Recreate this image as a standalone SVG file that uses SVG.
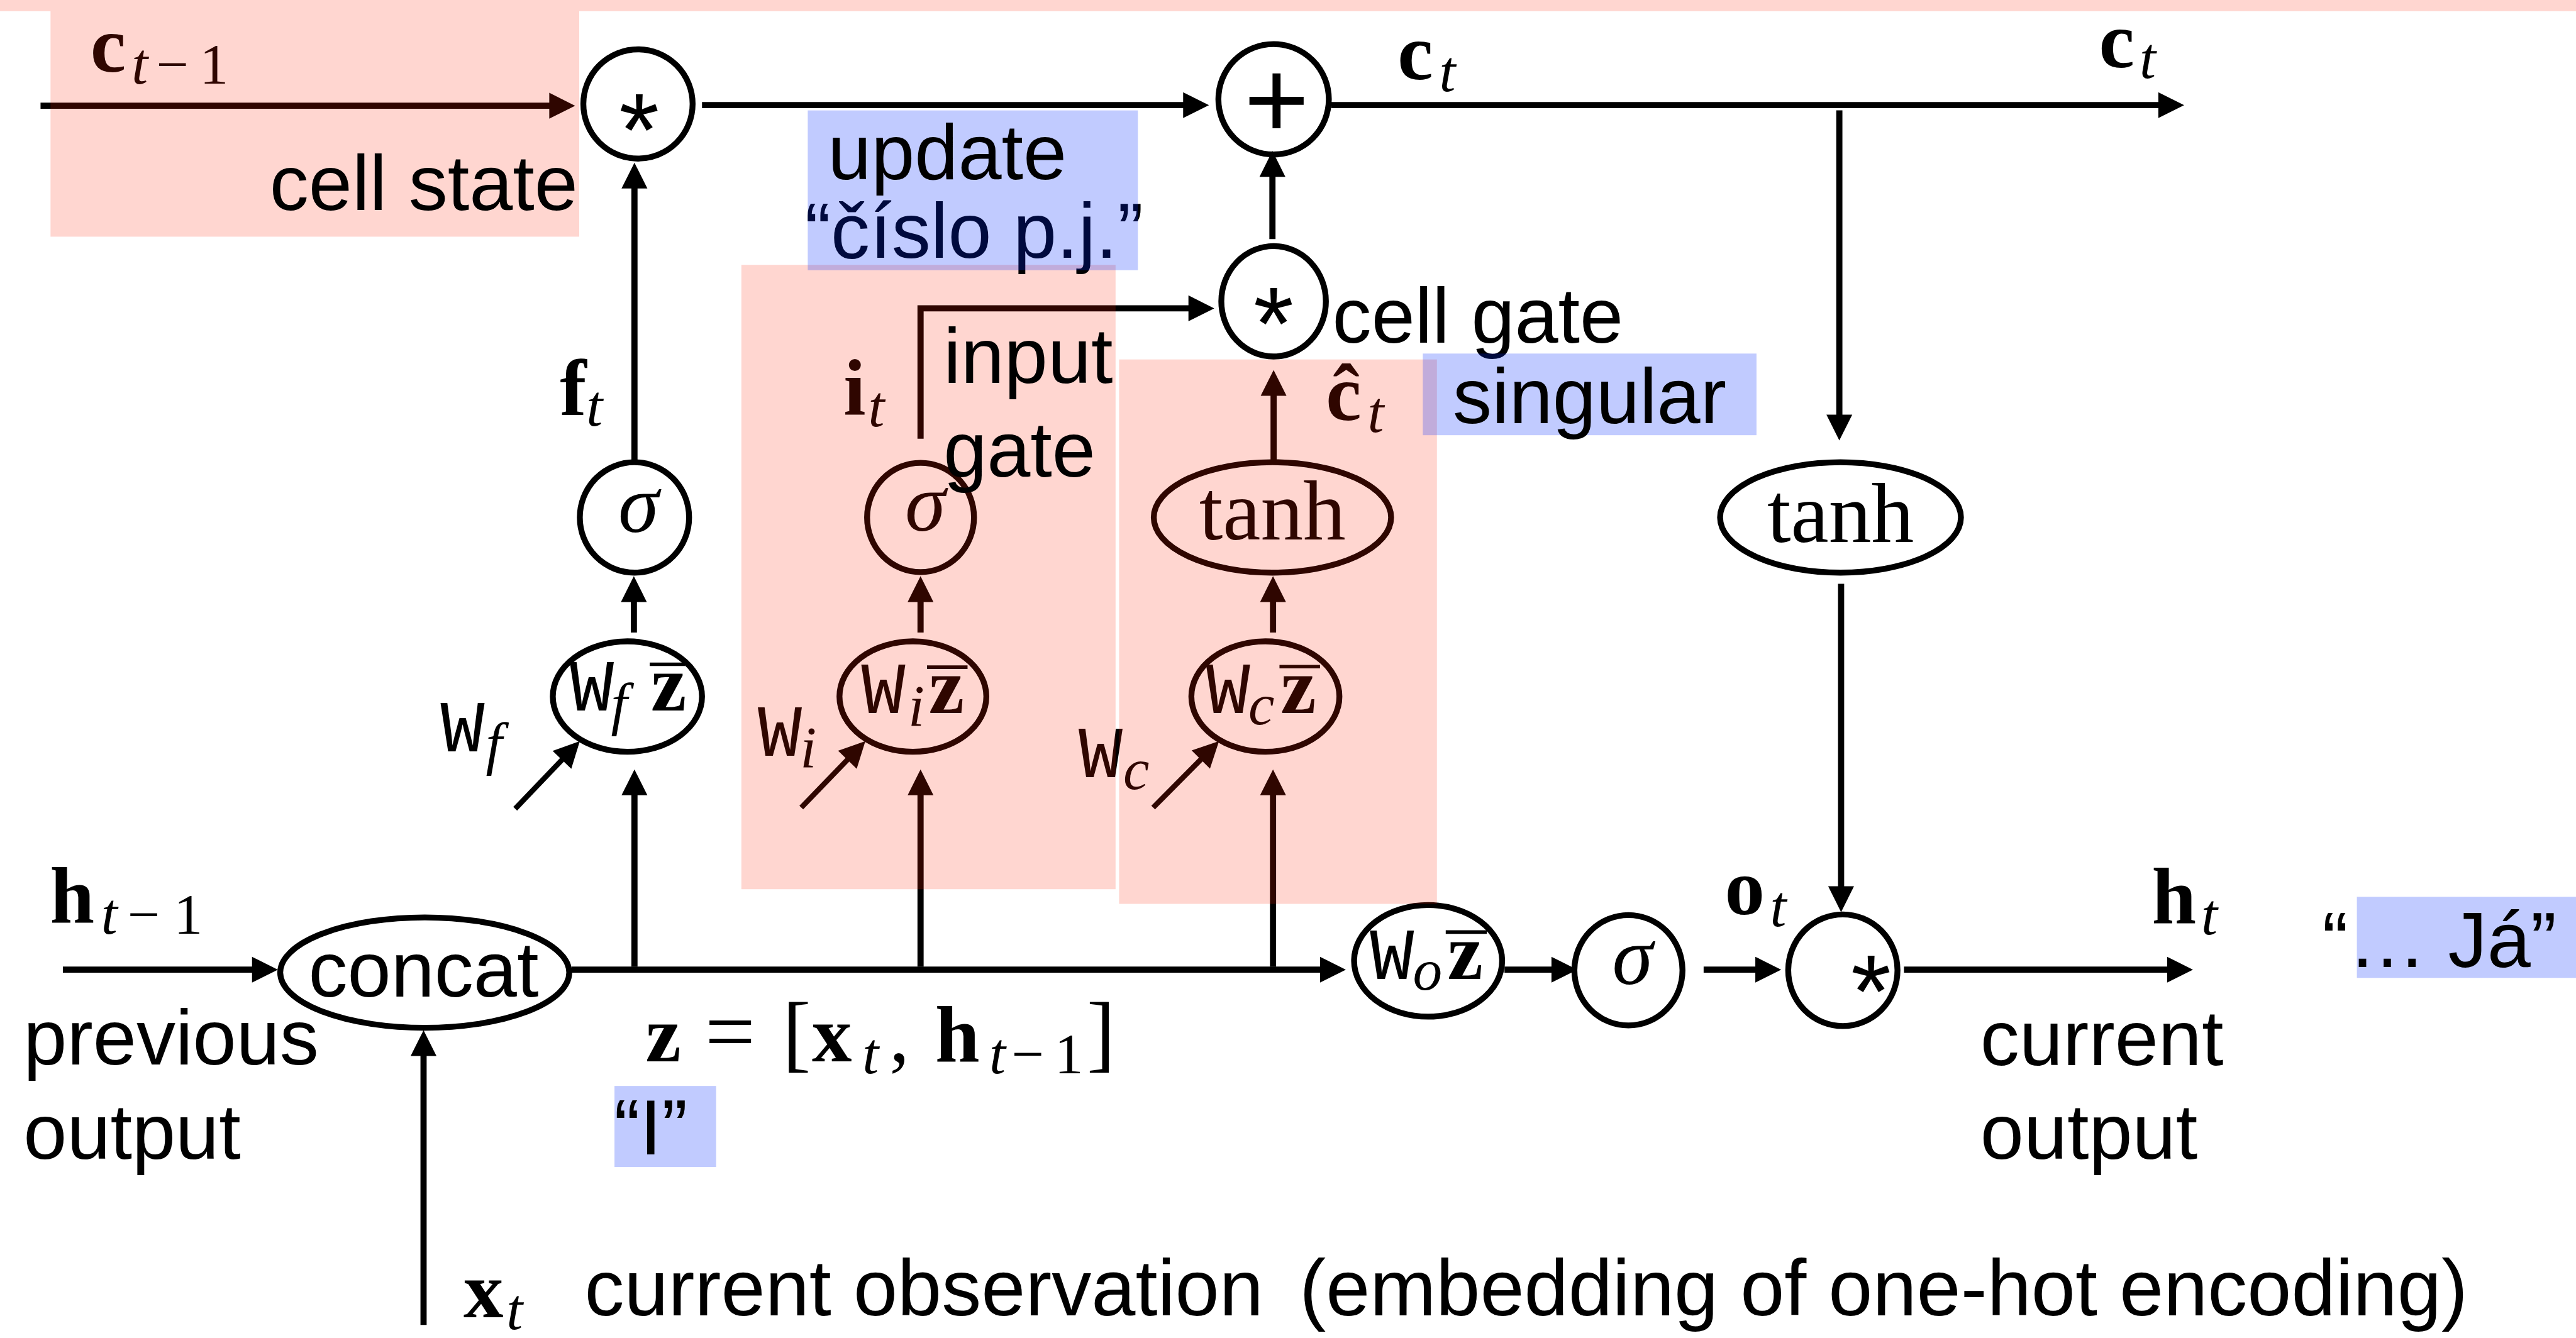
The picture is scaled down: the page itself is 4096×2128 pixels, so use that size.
<svg xmlns="http://www.w3.org/2000/svg" width="4096" height="2128" viewBox="0 0 4096 2128">
<defs>
<marker id="ah" markerUnits="userSpaceOnUse" markerWidth="44" markerHeight="44" refX="32" refY="22" orient="auto" overflow="visible">
<path d="M0,0 L44,22 L0,44 Z" fill="#000"/>
</marker>
<style>
.ln{fill:none;stroke:#000;stroke-width:10.5;marker-end:url(#ah)}
.dg{fill:none;stroke:#000;stroke-width:9;marker-end:url(#ah)}
.nd{fill:none;stroke:#000;stroke-width:10}
.ov{stroke:#000;stroke-width:6}
.sans{font-family:"Liberation Sans",Arial,sans-serif;font-size:133px;fill:#000}
.mb{font-family:"Liberation Serif","Times New Roman",serif;font-weight:bold;font-size:136px;fill:#000}
.mr{font-family:"Liberation Serif","Times New Roman",serif;font-size:98px;fill:#000}
.mi{font-family:"Liberation Serif","Times New Roman",serif;font-style:italic;font-size:100px;fill:#000}
.tt{font-family:"Liberation Mono","Courier New",monospace;font-size:125px;fill:#000}
.fn{font-family:"Liberation Serif","Times New Roman",serif;font-size:145px;fill:#000}
.sg{font-family:"Liberation Serif","Times New Roman",serif;font-style:italic;font-size:140px;fill:#000}
.op{font-family:"Liberation Sans",Arial,sans-serif;font-size:176px;fill:#000}
.pk{fill:rgb(255,30,0);fill-opacity:0.185}
.bl{fill:rgb(0,40,255);fill-opacity:0.245}
</style>
</defs>
<rect x="0" y="0" width="4096" height="2128" fill="#fff"/>
<g transform="scale(0.934094)">

<g id="connectors">
<path class="ln" d="M69,180 H967"/>
<path class="ln" d="M1195,179 H2046"/>
<path class="ln" d="M2266,179 H3706"/>
<path class="ln" d="M3131,188 V738"/>
<path class="ln" d="M3134,994 V1541"/>
<path class="ln" d="M2166,407 V269"/>
<path class="ln" d="M2168,783 V642"/>
<path class="ln" d="M1567,747 V525 H2055"/>
<path class="ln" d="M1080,783 V289"/>
<path class="ln" d="M1079,1077 V993"/>
<path class="ln" d="M1567,1077 V993"/>
<path class="ln" d="M2167,1077 V993"/>
<path class="ln" d="M1080,1646 V1322"/>
<path class="ln" d="M1567,1646 V1322"/>
<path class="ln" d="M2167,1646 V1322"/>
<path class="dg" d="M877,1377 L978.7,1270.7"/>
<path class="dg" d="M1364,1375 L1464.7,1270.6"/>
<path class="dg" d="M1963,1375 L2066.6,1270.5"/>
<path class="ln" d="M107,1651 H461"/>
<path class="ln" d="M721,2256 V1766"/>
<path class="ln" d="M973,1651 H2279"/>
<path class="ln" d="M2561,1651 H2673"/>
<path class="ln" d="M2900,1651 H3020"/>
<path class="ln" d="M3241,1651 H3721"/>
</g>

<g id="node-mul-forget">
<ellipse class="nd" cx="1086" cy="177" rx="93" ry="93"/>
<text class="op" x="1088" y="283" text-anchor="middle">*</text>
</g>
<g id="node-plus">
<ellipse class="nd" cx="2168" cy="169" rx="94" ry="94"/>
<text class="op" x="2173" y="236" text-anchor="middle" style="font-size:190px">+</text>
</g>
<g id="node-mul-cellgate">
<ellipse class="nd" cx="2168" cy="513" rx="89" ry="94"/>
<text class="op" x="2168" y="612" text-anchor="middle">*</text>
</g>
<g id="node-sigma-forget">
<ellipse class="nd" cx="1080" cy="881" rx="93" ry="94"/>
<text class="sg" x="1087" y="906" text-anchor="middle">σ</text>
</g>
<g id="node-sigma-input">
<ellipse class="nd" cx="1567" cy="881" rx="91" ry="93"/>
<text class="sg" x="1575" y="904" text-anchor="middle">σ</text>
</g>
<g id="node-tanh-cell">
<ellipse class="nd" cx="2166" cy="881" rx="202" ry="94"/>
<text class="fn" x="2166" y="919" text-anchor="middle">tanh</text>
</g>
<g id="node-tanh-out">
<ellipse class="nd" cx="3133" cy="881" rx="205" ry="94"/>
<text class="fn" x="3133" y="923" text-anchor="middle">tanh</text>
</g>
<g id="node-Wfz">
<ellipse class="nd" cx="1068" cy="1186" rx="127" ry="94"/>
<text class="tt" x="970" y="1210">W</text>
<text class="mi" x="1040" y="1232">f</text>
<text class="mb" x="1108" y="1210">z</text>
<line class="ov" x1="1106" y1="1131" x2="1166" y2="1131"/>
</g>
<g id="node-Wiz">
<ellipse class="nd" cx="1554" cy="1186" rx="125" ry="94"/>
<text class="tt" x="1466" y="1214">W</text>
<text class="mi" x="1546" y="1235">i</text>
<text class="mb" x="1581" y="1214">z</text>
<line class="ov" x1="1578" y1="1136" x2="1647" y2="1136"/>
</g>
<g id="node-Wcz">
<ellipse class="nd" cx="2154" cy="1186" rx="126" ry="94"/>
<text class="tt" x="2053" y="1214">W</text>
<text class="mi" x="2125" y="1233">c</text>
<text class="mb" x="2180" y="1214">z</text>
<line class="ov" x1="2178" y1="1135" x2="2247" y2="1135"/>
</g>
<g id="node-concat">
<ellipse class="nd" cx="723" cy="1656" rx="246" ry="94"/>
<text class="sans" x="721" y="1697" text-anchor="middle">concat</text>
</g>
<g id="node-Woz">
<ellipse class="nd" cx="2431" cy="1636" rx="126" ry="95"/>
<text class="tt" x="2332" y="1667">W</text>
<text class="mi" x="2405" y="1685">o</text>
<text class="mb" x="2464" y="1667">z</text>
<line class="ov" x1="2461" y1="1587" x2="2531" y2="1587"/>
</g>
<g id="node-sigma-out">
<ellipse class="nd" cx="2772" cy="1652" rx="92" ry="94"/>
<text class="sg" x="2779" y="1675" text-anchor="middle">σ</text>
</g>
<g id="node-mul-out">
<ellipse class="nd" cx="3137" cy="1652" rx="93" ry="95"/>
<text class="op" x="3185" y="1749" text-anchor="middle">*</text>
</g>

<g id="labels">
<text class="mb" x="154" y="122">c</text><text class="mi" x="224" y="142">t</text><text class="mr" x="266" y="142">−</text><text class="mr" x="340" y="142">1</text>
<text class="mb" x="2379" y="135">c</text><text class="mi" x="2450" y="155">t</text>
<text class="mb" x="3573" y="115">c</text><text class="mi" x="3642" y="133">t</text>
<text class="mb" x="1436" y="706">i</text><text class="mi" x="1478" y="726">t</text>
<text class="mb" x="2257" y="715">ĉ</text><text class="mi" x="2328" y="735">t</text>
<text class="mb" x="953" y="707">f</text><text class="mi" x="998" y="725">t</text>
<text class="tt" x="750" y="1279">W</text><text class="mi" x="827" y="1300">f</text>
<text class="tt" x="1290" y="1287">W</text><text class="mi" x="1362" y="1306">i</text>
<text class="tt" x="1836" y="1323">W</text><text class="mi" x="1912" y="1344">c</text>
<text class="mb" x="85" y="1571">h</text><text class="mi" x="172" y="1590">t</text><text class="mr" x="217" y="1590">−</text><text class="mr" x="296" y="1590">1</text>
<text class="mb" x="1099" y="1807">z</text>
<text class="mr" x="1200" y="1807" style="font-size:152px">=</text>
<text class="mr" x="1332" y="1807" style="font-size:145px">[</text>
<text class="mb" x="1382" y="1807">x</text><text class="mi" x="1468" y="1827">t</text>
<text class="mr" x="1514" y="1807" style="font-size:136px">,</text>
<text class="mb" x="1592" y="1807">h</text><text class="mi" x="1684" y="1827">t</text><text class="mr" x="1722" y="1827">−</text><text class="mr" x="1795" y="1827">1</text>
<text class="mr" x="1850" y="1807" style="font-size:145px">]</text>
<text class="mb" x="2936" y="1557">o</text><text class="mi" x="3013" y="1577">t</text>
<text class="mb" x="3663" y="1572">h</text><text class="mi" x="3747" y="1591">t</text>
<text class="mb" x="789" y="2243">x</text><text class="mi" x="862" y="2263">t</text>
<text class="sans" x="2268" y="583">cell gate</text>
<text class="sans" x="40" y="1812">previous</text>
<text class="sans" x="40" y="1973">output</text>
<text class="sans" x="3371" y="1813">current</text>
<text class="sans" x="3371" y="1973">output</text>
<text class="sans" x="995" y="2240" style="font-size:135px">current observation</text>
<text class="sans" x="2212" y="2240" style="font-size:135px">(embedding of one-hot encoding)</text>
</g>

<g id="highlights-pink">
<rect class="pk" x="0" y="0" width="4385" height="19"/>
<rect class="pk" x="86" y="19" width="900" height="384"/>
<rect class="pk" x="1262" y="451" width="637" height="1063"/>
<rect class="pk" x="1905" y="612" width="541" height="927"/>
</g>
<g id="labels-over-pink">
<text class="sans" x="459" y="358">cell state</text>
<text class="sans" x="1606" y="652">input</text>
<text class="sans" x="1606" y="812">gate</text>
<text class="sans" x="1370" y="439">“číslo p.j.”</text>
</g>
<g id="highlights-blue">
<rect class="bl" x="1375" y="188" width="562" height="272"/>
<rect class="bl" x="2422" y="602" width="568" height="139"/>
<rect class="bl" x="1046" y="1849" width="173" height="138"/>
<rect class="bl" x="4012" y="1527" width="373" height="138"/>
</g>
<g id="labels-over-blue">
<text class="sans" x="1409" y="305">update</text>
<text class="sans" x="2473" y="720">singular</text>
<text class="sans" x="1045" y="1966">“I”</text>
<text class="sans" x="3953" y="1646">“… Já”</text>
</g>
</g>
</svg>
